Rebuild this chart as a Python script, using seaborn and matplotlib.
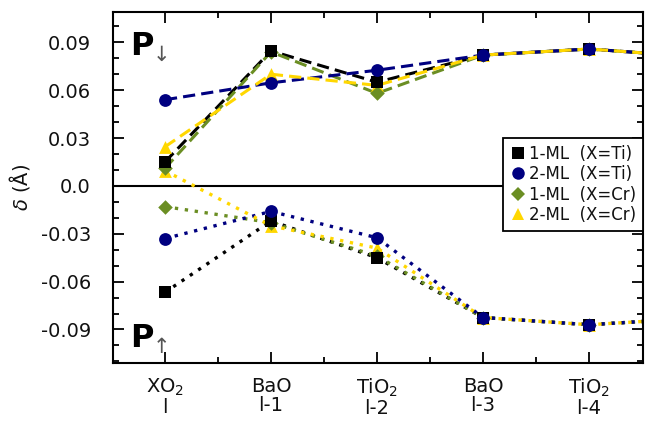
import numpy as np
import pandas as pd
import seaborn as sns
import matplotlib.pyplot as plt
from matplotlib.lines import Line2D
from matplotlib.ticker import MultipleLocator, FixedLocator

# ---- data ----
layers = ["XO$_2$\nl", "BaO\nl-1", "TiO$_2$\nl-2", "BaO\nl-3", "TiO$_2$\nl-4"]
xpos = [0, 1, 2, 3, 4, 5]

# P pointing down (upper branch, dashed)
ti1_down = [0.015, 0.0846, 0.065, 0.082, 0.0858, 0.081]
ti2_down = [0.054, 0.0646, 0.0725, 0.082, 0.0858, 0.081]
cr1_down = [0.011, 0.0840, 0.058, 0.082, 0.0858, 0.081]
cr2_down = [0.0245, 0.0700, 0.063, 0.082, 0.0858, 0.081]

# P pointing up (lower branch, dotted)
ti1_up = [-0.0667, -0.022, -0.045, -0.0825, -0.087, -0.083]
ti2_up = [-0.033, -0.016, -0.0325, -0.0825, -0.087, -0.083]
cr1_up = [-0.013, -0.023, -0.044, -0.0825, -0.087, -0.083]
cr2_up = [0.0095, -0.025, -0.039, -0.0825, -0.087, -0.083]

series_labels = ["1-ML  (X=Ti)", "2-ML  (X=Ti)", "1-ML  (X=Cr)", "2-ML  (X=Cr)"]
colors = ["black", "#000080", "#6b8e23", "#ffd700"]
markers = ["s", "o", "D", "^"]
msizes = [80, 85, 55, 85]

downs = [ti1_down, ti2_down, cr1_down, cr2_down]
ups = [ti1_up, ti2_up, cr1_up, cr2_up]

sns.set_theme(style="ticks")
plt.rcParams['font.family'] = ['DejaVu Sans']
plt.rcParams['mathtext.fontset'] = 'dejavusans'
plt.rcParams['text.color'] = '#111111'
plt.rcParams['axes.labelcolor'] = '#111111'
plt.rcParams['xtick.labelcolor'] = '#111111'
plt.rcParams['ytick.labelcolor'] = '#111111'

fig = plt.figure(figsize=(6.47, 4.24), dpi=100)
ax = fig.add_axes([0.1747, 0.1439, 0.8193, 0.8278])

ax.axhline(0, color="black", lw=1.5, zorder=1)

# lines
line_order = [0, 2, 1, 3]
for i in line_order:
    sns.lineplot(x=xpos, y=downs[i], color=colors[i], lw=2.2,
                 linestyle=(0, (4, 2)), ax=ax, zorder=2, legend=False)
    sns.lineplot(x=xpos, y=ups[i], color=colors[i], lw=2.4,
                 linestyle=(0, (1, 2)), ax=ax, zorder=2, legend=False)

# markers
marker_order = [3, 2, 0, 1]
for i in marker_order:
    for data in (downs[i], ups[i]):
        sns.scatterplot(x=xpos, y=data, color=colors[i], marker=markers[i],
                        s=msizes[i], linewidth=0, ax=ax, zorder=3, legend=False)

ax.set_xlim(-0.49, 4.51)
ax.set_ylim(-0.111, 0.109)

ax.set_xticks(range(len(layers)))
ax.set_xticklabels(layers, fontsize=14, linespacing=1.0)
ax.xaxis.set_minor_locator(FixedLocator([0.5, 1.5, 2.5, 3.5]))
ax.set_yticks([-0.09, -0.06, -0.03, 0.0, 0.03, 0.06, 0.09])
ax.set_yticklabels(["-0.09", "-0.06", "-0.03", "0.0", "0.03", "0.06", "0.09"], fontsize=14)
ax.yaxis.set_minor_locator(MultipleLocator(0.01))

ax.tick_params(which="both", direction="in", top=True, right=True, width=1.3, color="black")
ax.tick_params(which="major", length=8)
ax.tick_params(which="minor", length=4.5)
ax.tick_params(axis="y", which="both", pad=16)
ax.tick_params(axis="x", which="both", pad=10)

for sp in ax.spines.values():
    sp.set_linewidth(1.5)
    sp.set_color("black")

ax.set_ylabel(r"$\delta$ (Å)", fontsize=14, labelpad=6)
ax.set_xlabel("")

# P labels
ax.text(0.032, 0.877, "P", transform=ax.transAxes, fontsize=23, fontweight="bold",
        ha="left", va="baseline", color="black")
ax.text(0.074, 0.849, "↓", transform=ax.transAxes, fontsize=15,
        ha="left", va="bottom", color="#555555")
ax.text(0.032, 0.046, "P", transform=ax.transAxes, fontsize=23, fontweight="bold",
        ha="left", va="baseline", color="black")
ax.text(0.074, 0.017, "↑", transform=ax.transAxes, fontsize=15,
        ha="left", va="bottom", color="#555555")

handles = [Line2D([], [], marker=markers[i], color=colors[i], linestyle="none",
                  markersize=9 if markers[i] != "D" else 7, markeredgewidth=0)
           for i in range(4)]
leg = ax.legend(handles, series_labels, loc="upper right", bbox_to_anchor=(1.0, 0.641),
                fontsize=12, frameon=True, fancybox=False, framealpha=1,
                edgecolor="black", borderaxespad=0, handletextpad=0.2,
                handlelength=1.0, labelspacing=0.15, borderpad=0.4)
leg.get_frame().set_linewidth(1.3)
leg.set_zorder(5)

fig.savefig("out.png", dpi=100)
